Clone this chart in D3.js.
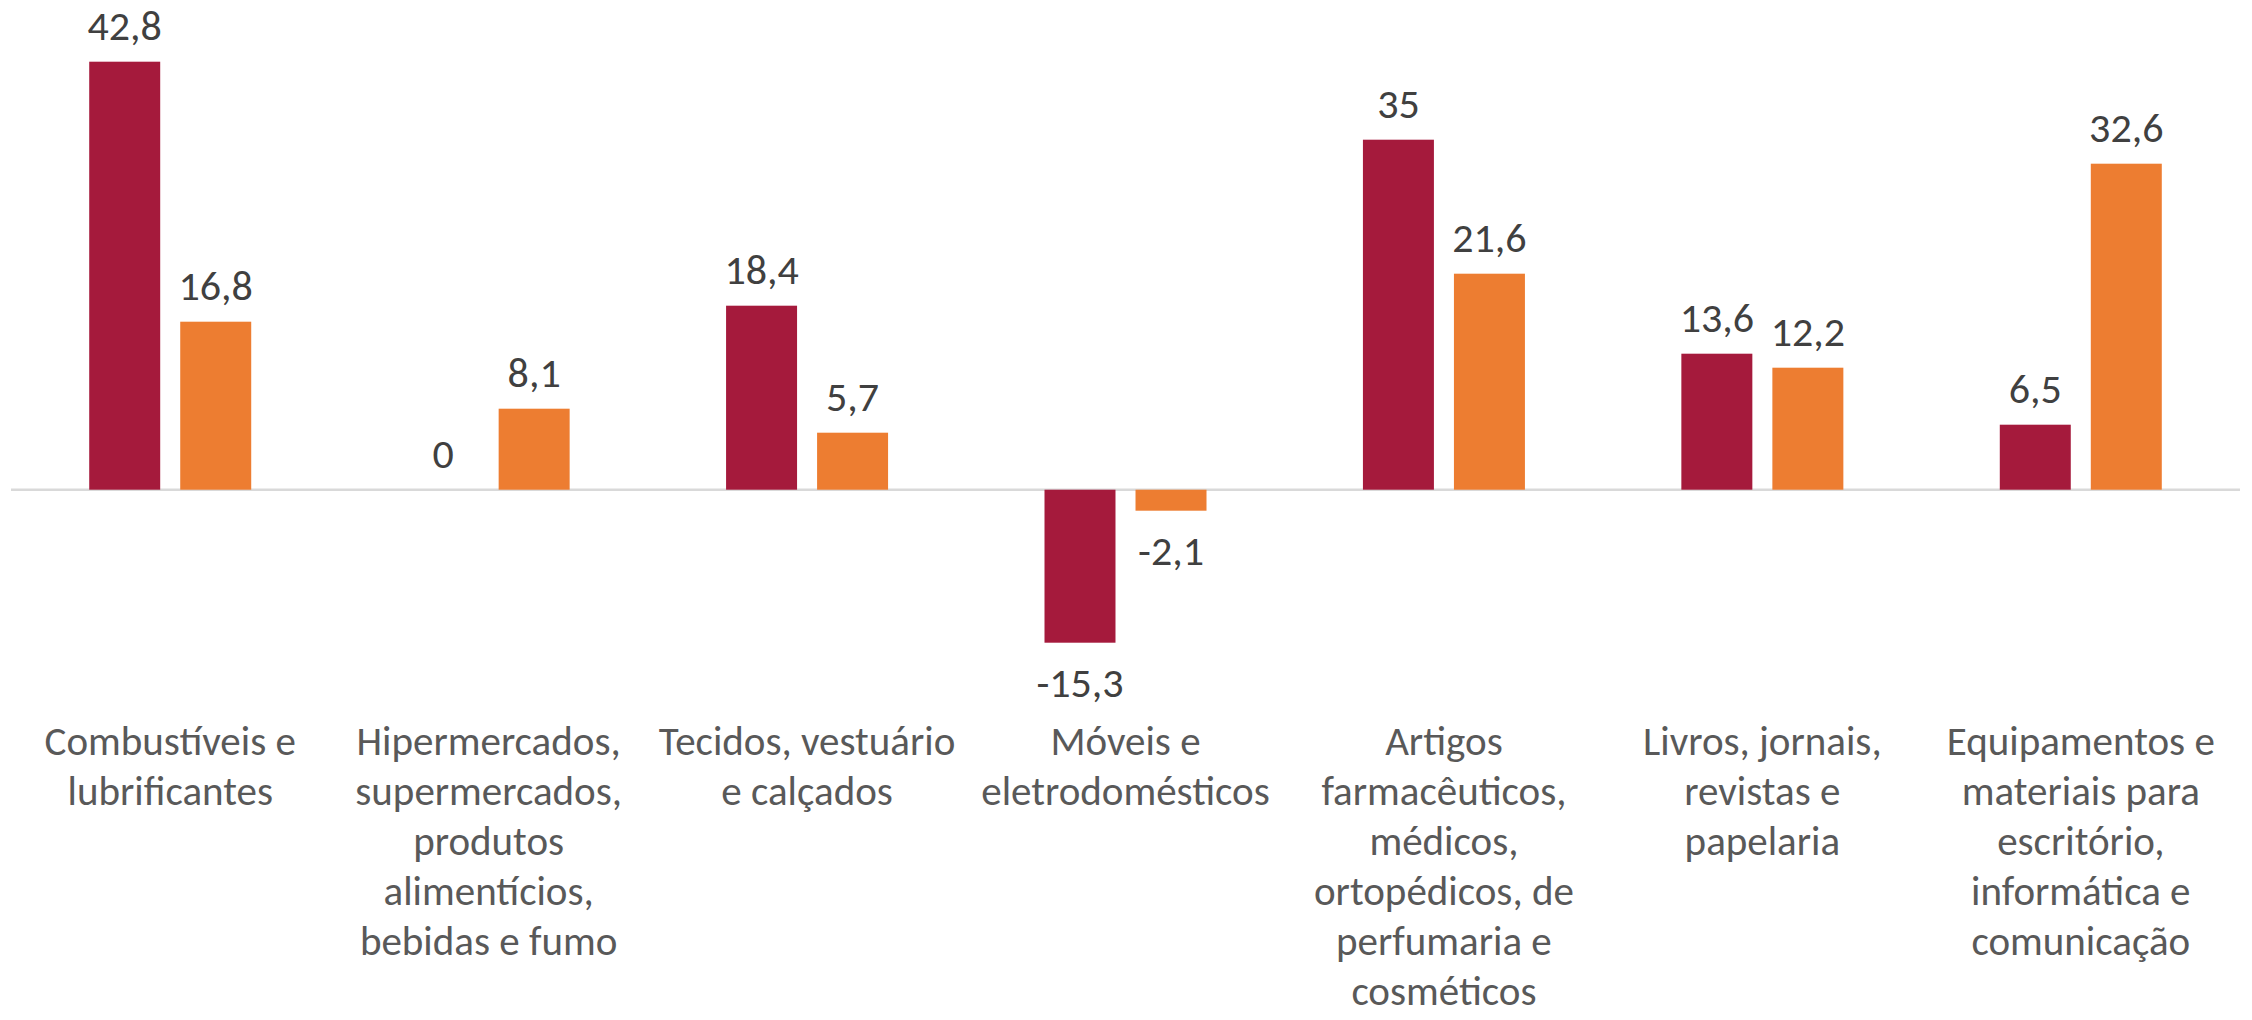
<!DOCTYPE html>
<html>
<head>
<meta charset="utf-8">
<script src="https://cdn.jsdelivr.net/npm/d3@7.9.0/dist/d3.min.js"></script>
<style>
  html, body { margin: 0; padding: 0; background: #fff; }
  svg { display: block; }
  text { font-family: Carlito, Calibri, Lato, sans-serif; }
</style>
</head>
<body>
<div id="chart"></div>
<script>
// categories, one entry per group (line breaks as in the original)
const categories = [
  'Combustíveis e lubrificantes',
  'Hipermercados, supermercados, produtos alimentícios, bebidas e fumo',
  'Tecidos, vestuário e calçados',
  'Móveis e eletrodomésticos',
  'Artigos farmacêuticos, médicos, ortopédicos, de perfumaria e cosméticos',
  'Livros, jornais, revistas e papelaria',
  'Equipamentos e materiais para escritório, informática e comunicação'
];
const categoryLines = [
  ['Combustíveis e', 'lubrificantes'],
  ['Hipermercados,', 'supermercados,', 'produtos', 'alimentícios,', 'bebidas e fumo'],
  ['Tecidos, vestuário', 'e calçados'],
  ['Móveis e', 'eletrodomésticos'],
  ['Artigos', 'farmacêuticos,', 'médicos,', 'ortopédicos, de', 'perfumaria e', 'cosméticos'],
  ['Livros, jornais,', 'revistas e', 'papelaria'],
  ['Equipamentos e', 'materiais para', 'escritório,', 'informática e', 'comunicação']
];
const seriesNames = ['Série 1', 'Série 2'];
const series1 = [42.8, 0, 18.4, -15.3, 35, 13.6, 6.5];
const series2 = [16.8, 8.1, 5.7, -2.1, 21.6, 12.2, 32.6];
const colors = ['#A51A3C', '#ED7D31'];

const width = 2252, height = 1020;
const fmt = d3.formatLocale({ decimal: ',', thousands: '.', grouping: [3], currency: ['', ''], minus: '-' }).format('~g');

const rows = categories.map((c, i) => ({
  category: c,
  lines: categoryLines[i],
  values: [series1[i], series2[i]]
}));

const svg = d3.select('#chart').append('svg')
  .attr('width', width)
  .attr('height', height);

const x = d3.scaleBand()
  .domain(categories)
  .range([11, 2240])
  .padding(0);

const groupWidth = 162;
const xs = d3.scaleBand()
  .domain(seriesNames)
  .range([0, groupWidth])
  .paddingInner(0.22)
  .paddingOuter(0);

const y = d3.scaleLinear()
  .domain([-20, 45])
  .range([689.7, 39.7]);

// zero line
svg.append('line')
  .attr('x1', x.range()[0])
  .attr('x2', x.range()[1])
  .attr('y1', y(0))
  .attr('y2', y(0))
  .attr('stroke', '#D9D9D9')
  .attr('stroke-width', 2.5);

const groups = svg.selectAll('g.group')
  .data(rows)
  .enter()
  .append('g')
    .attr('class', 'group')
    .attr('transform', d => `translate(${x(d.category) + x.bandwidth() / 2 - groupWidth / 2},0)`);

const cells = groups.selectAll('g.cell')
  .data(d => d.values.map((v, j) => ({ name: seriesNames[j], value: v, j })))
  .enter()
  .append('g')
    .attr('class', 'cell');

cells.append('rect')
  .attr('x', d => xs(d.name))
  .attr('width', xs.bandwidth())
  .attr('y', d => y(Math.max(0, d.value)))
  .attr('height', d => Math.abs(y(d.value) - y(0)))
  .attr('fill', d => colors[d.j]);

cells.append('text')
  .attr('x', d => xs(d.name) + xs.bandwidth() / 2)
  .attr('y', d => d.value >= 0 ? y(d.value) - 22 : y(d.value) + 54)
  .attr('text-anchor', 'middle')
  .attr('font-size', 42)
  .attr('fill', '#404040')
  .text(d => fmt(d.value));

// category labels
const labels = svg.selectAll('text.cat')
  .data(rows)
  .enter()
  .append('text')
    .attr('class', 'cat')
    .attr('text-anchor', 'middle')
    .attr('font-size', 41)
    .attr('fill', '#595959');

labels.selectAll('tspan')
  .data(d => d.lines.map(l => ({ l, cx: x(d.category) + x.bandwidth() / 2 })))
  .enter()
  .append('tspan')
    .attr('x', d => d.cx)
    .attr('y', (d, i) => 755 + i * 50)
    .text(d => d.l);
</script>
</body>
</html>
